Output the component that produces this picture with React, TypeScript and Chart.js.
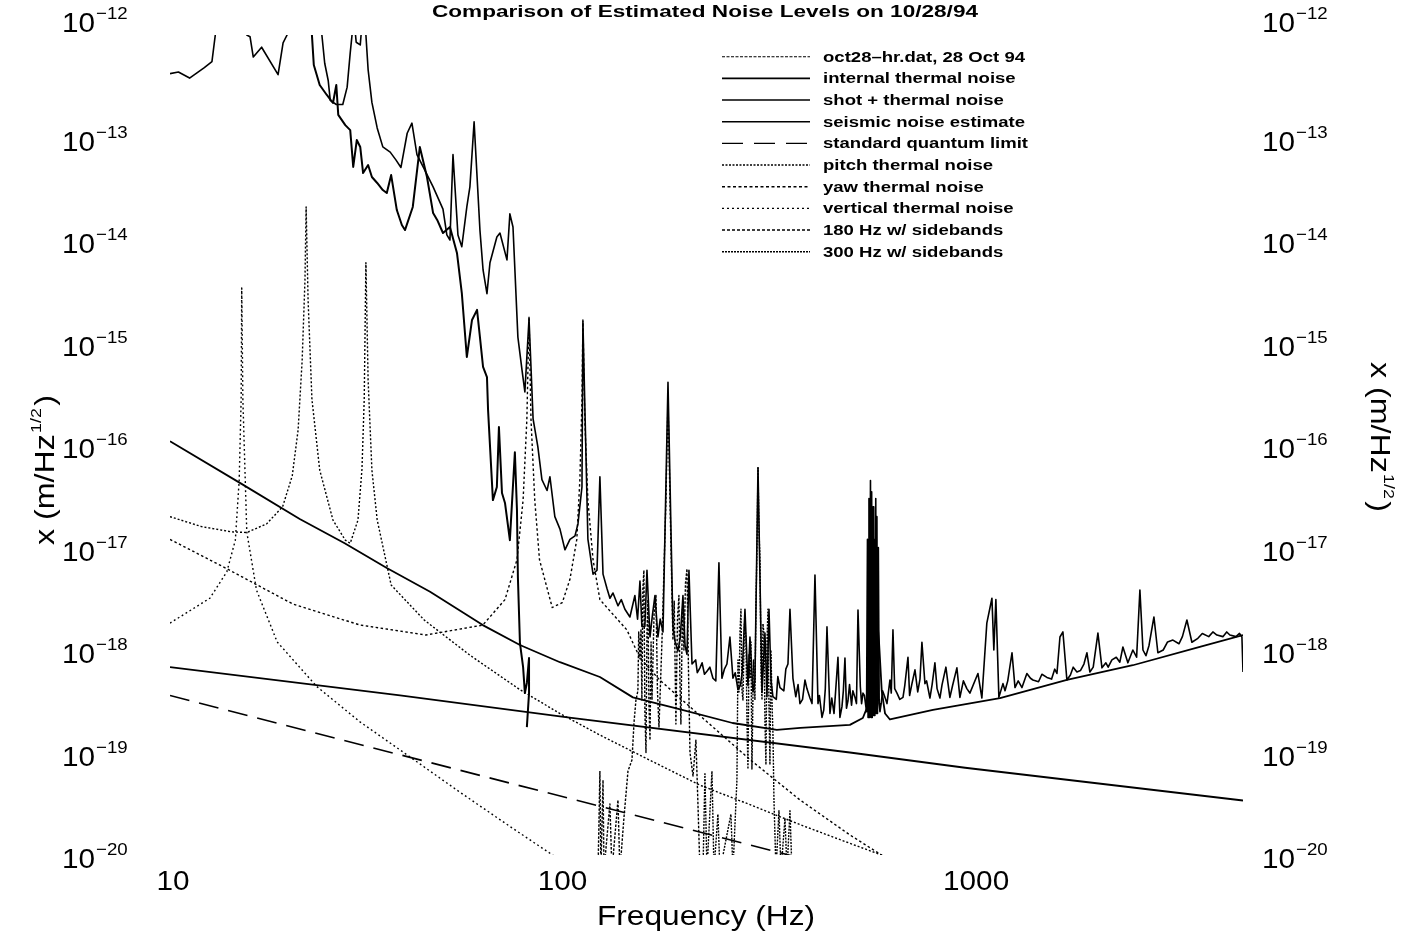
import React, { useEffect, useRef } from 'react';
import { Chart, registerables } from 'chart.js';

Chart.register(...registerables);

type Pt = [number, number];

// ---------- text ----------
const chartTitle = 'Comparison of Estimated Noise Levels on 10/28/94';
const xAxisTitle = 'Frequency (Hz)';
const yAxisTitleMain = 'x (m/Hz';
const yAxisTitleSup = '1/2';
const xTickValues = [10, 100, 1000];
const yTickExponents = [-12, -13, -14, -15, -16, -17, -18, -19, -20];
const legendLabels = [
  'oct28\u2013hr.dat, 28 Oct 94',
  'internal thermal noise',
  'shot + thermal noise',
  'seismic noise estimate',
  'standard quantum limit',
  'pitch thermal noise',
  'yaw thermal noise',
  'vertical thermal noise',
  '180 Hz w/ sidebands',
  '300 Hz w/ sidebands',
];

// ---------- data: [frequency Hz, amplitude m/sqrt(Hz)] ----------
const oct28Spectrum: Pt[] = [
  [10.0, 4.2e-13], [10.5, 4.35e-13], [11.2, 3.8e-13], [12.2, 4.8e-13], [12.75, 5.5e-13], [13.0, 1.0e-12],
  [13.5, 3e-12], [15.2, 3e-12], [15.6, 1.0e-12], [15.9, 9.6e-13], [16.2, 6.1e-13], [17.0, 7.6e-13],
  [18.7, 4.1e-13], [19.25, 8.4e-13], [19.7, 1.0e-12], [20.2, 3e-12], [23.6, 3e-12], [24.1, 1.0e-12],
  [24.5, 5.3e-13], [25.0, 3.6e-13], [25.3, 2.3e-13], [26.2, 2.1e-13], [27.2, 2.1e-13], [27.9, 3.1e-13],
  [28.4, 6.7e-13], [28.7, 1.0e-12], [29.0, 1.5e-12], [29.4, 8.5e-13], [30.1, 8.0e-13], [30.5, 1.5e-12],
  [31.1, 1.0e-12], [31.5, 4.6e-13], [32.2, 2.2e-13], [33.2, 1.24e-13], [34.3, 8.1e-14], [35.8, 7.2e-14],
  [37.0, 6.05e-14], [38.1, 5.1e-14], [39.5, 1.1e-13], [40.6, 1.38e-13], [41.8, 6.8e-14], [43.3, 5.2e-14],
  [45.9, 3.3e-14], [48.6, 2.0e-14], [49.7, 1.12e-14], [50.6, 1.0e-14], [51.5, 6.8e-14], [53.0, 1.12e-14],
  [54.2, 8.6e-15], [55.8, 2.1e-14], [56.8, 3.3e-14], [58.2, 1.42e-13], [60.2, 1.25e-14], [61.3, 5.1e-15],
  [62.7, 3.0e-15], [63.8, 6.0e-15], [66.4, 1.07e-14], [67.6, 1.17e-14], [70.4, 6.4e-15], [71.6, 1.8e-14],
  [72.9, 1.34e-14], [75.0, 1.13e-15], [76.8, 5.4e-16], [78.1, 3.3e-16], [80.0, 1.7e-15], [81.9, 1.8e-16],
  [84.2, 9.6e-17], [86.2, 4.6e-17], [88.8, 3.6e-17], [90.3, 4.9e-17], [92.9, 2.0e-17], [95.7, 1.51e-17],
  [98.5, 9.5e-18], [101.4, 1.2e-17], [104.4, 1.3e-17], [106.2, 1.7e-17], [108.7, 3.9e-17], [109.3, 1.6e-15],
  [112.5, 1.21e-17], [115.9, 5.5e-18], [118.6, 6.0e-18], [120.6, 4.9e-17], [122.8, 5.5e-18], [125.6, 4.0e-18],
  [127.8, 3.2e-18], [130.1, 3.6e-18], [133.9, 2.7e-18], [136.5, 3.1e-18], [139.4, 2.5e-18], [143.5, 2.1e-18],
  [147.7, 3.4e-18], [150.0, 2.0e-18], [152.1, 4.7e-18], [153.8, 1.7e-18], [156.5, 1.7e-18], [158.4, 6.0e-18],
  [161.2, 1.34e-18], [163.5, 2.2e-18], [165.9, 3.4e-18], [168.8, 1.34e-18], [171.0, 2.0e-18], [173.8, 1.5e-18],
  [178.9, 4.1e-16], [184.1, 1.7e-18], [186.5, 1.2e-18], [189.5, 9.8e-19], [192.0, 1.3e-18], [195.1, 3.4e-18],
  [197.5, 1.1e-18], [199.7, 9.1e-19], [202.0, 6.0e-18], [205.6, 7.3e-19], [210, 8.0e-19], [212, 6.0e-19],
  [215.3, 6.7e-19], [218, 7.5e-19], [221, 5.8e-19], [224.2, 6.2e-19], [228, 6.8e-19], [232.1, 5.3e-19],
  [236, 5.0e-19], [240.3, 7.1e-18], [244.5, 5.3e-19], [248, 6.5e-19], [251.7, 7.3e-19], [256.1, 1.34e-18],
  [260.6, 5.3e-19], [264, 6.0e-19], [268.3, 4.1e-19], [272, 4.5e-19], [275, 6.0e-19], [279.4, 2.5e-18],
  [284.3, 4.5e-19], [287.6, 1.34e-18], [292.7, 3.9e-19], [296, 5.0e-19], [301.3, 6.0e-17], [308.4, 3.9e-19],
  [313.7, 1.46e-18], [317.4, 3.5e-19], [321.1, 2.5e-18], [325, 5.0e-19], [328.6, 3.5e-19], [335, 3.3e-19],
  [338, 5.5e-19], [342.2, 4.3e-19], [350, 4.0e-19], [354, 6.5e-19], [358.4, 7.3e-19], [362.6, 2.5e-18],
  [368.9, 5.3e-19], [375, 3.5e-19], [380, 4.6e-19], [384.2, 3.0e-19], [390, 3.3e-19], [395.5, 5.1e-19],
  [400, 4.2e-19], [407.1, 3.4e-19], [412, 3.0e-19], [419.1, 5.4e-18], [426.5, 3.0e-19], [430, 3.6e-19],
  [436.5, 2.2e-19], [441, 2.6e-19], [445, 4.2e-19], [449.3, 1.68e-18], [457.1, 2.4e-19], [462, 3.4e-19],
  [468, 2.4e-19], [472, 3.8e-19], [478.8, 8.5e-19], [484.3, 2.2e-19], [490, 2.8e-19], [494, 4.0e-19],
  [498.6, 8.35e-19], [503, 2.7e-19], [507.4, 3.2e-19], [512, 4.6e-19], [518, 2.9e-19], [522, 4.0e-19],
  [528.4, 3.45e-19], [533, 3.0e-19], [537.7, 2.45e-18], [545, 4.4e-19], [549, 3.0e-19], [553.4, 3.8e-19],
  [558, 3.6e-19], [565, 2.5e-19], [568, 1.2e-17], [570, 2.2e-19], [573, 3.0e-17], [575, 2.2e-19],
  [578, 4.5e-17], [580, 2.2e-19], [582, 3.5e-17], [584, 2.2e-19], [587, 2.5e-17], [589, 2.3e-19],
  [591, 1.2e-17], [593, 2.3e-19], [596, 3.0e-17], [598, 2.4e-19], [600, 2.0e-17], [602, 2.4e-19],
  [605, 1.0e-17], [608, 3.0e-19], [610.7, 2.5e-19], [615, 3.0e-19], [620, 4.0e-19], [628.6, 3.45e-19],
  [636, 3.0e-19], [647.1, 5.1e-19], [652, 3.8e-19], [658.4, 1.57e-18], [665, 4.2e-19], [673.9, 3.8e-19],
  [685, 3.3e-19], [697.8, 3.45e-19], [705, 4.5e-19], [718.2, 8.5e-19], [725, 3.6e-19], [735.0, 4.7e-19],
  [747.9, 6.4e-19], [760, 3.9e-19], [770, 5.2e-19], [778.7, 1.19e-18], [792.4, 4.7e-19], [800, 5.0e-19],
  [815.6, 3.4e-19], [826, 4.6e-19], [839.5, 7.5e-19], [850, 4.2e-19], [864.2, 3.4e-19], [875, 4.6e-19],
  [894.7, 6.8e-19], [905, 4.8e-19], [915.6, 3.45e-19], [930, 4.5e-19], [953.5, 6.7e-19], [970.3, 3.45e-19],
  [990, 5.0e-19], [1010, 4.2e-19], [1028, 3.8e-19], [1077, 5.9e-19], [1102, 3.4e-19], [1134, 1.83e-18],
  [1168, 3.2e-18], [1181, 1.0e-18], [1195, 3.1e-18], [1216, 3.45e-19], [1245, 4.7e-19], [1260, 4.0e-19],
  [1280, 5.0e-19], [1312, 9.4e-19], [1335, 4.3e-19], [1360, 5.0e-19], [1390, 4.3e-19], [1430, 5.9e-19],
  [1460, 5.3e-19], [1481, 5.1e-19], [1530, 4.9e-19], [1560, 5.8e-19], [1606, 5.4e-19], [1650, 5.2e-19],
  [1680, 6.5e-19], [1702, 5.9e-19], [1732, 1.34e-18], [1762, 1.5e-18], [1803, 5.1e-19], [1840, 5.7e-19],
  [1870, 6.8e-19], [1911, 6.1e-19], [1950, 6.3e-19], [1990, 7.3e-19], [2025, 9.4e-19], [2060, 6.1e-19],
  [2100, 6.8e-19], [2158, 1.46e-18], [2209, 6.7e-19], [2260, 7.5e-19], [2290, 6.8e-19], [2340, 8.0e-19],
  [2400, 8.5e-19], [2450, 7.6e-19], [2494, 1.07e-18], [2567, 7.5e-19], [2642, 1.0e-18], [2700, 8.5e-19],
  [2752, 3.85e-18], [2801, 1.0e-18], [2850, 8.8e-19], [2900, 1.1e-18], [2985, 2.1e-18], [3054, 9.4e-19],
  [3150, 1.0e-18], [3230, 1.2e-18], [3332, 1.25e-18], [3450, 1.15e-18], [3520, 1.35e-18], [3613, 1.96e-18],
  [3719, 1.19e-18], [3850, 1.3e-18], [3950, 1.45e-18], [4100, 1.35e-18], [4200, 1.5e-18], [4298, 1.4e-18],
  [4450, 1.35e-18], [4550, 1.5e-18], [4634, 1.4e-18], [4800, 1.35e-18], [4900, 1.45e-18], [4969, 1.34e-18],
  [5000, 6.1e-19],
];

const internalThermalNoise: Pt[] = [
  [10, 6.8e-19], [37.9, 3.6e-19], [100, 2.2e-19], [513, 1.0e-19], [1000, 7.1e-20], [5000, 3.4e-20],
];

const shotThermalNoise: Pt[] = [
  [10, 1.09e-16], [15.1, 4.2e-17], [21.2, 1.9e-17], [27.5, 1.1e-17], [35.1, 6.3e-18], [45.1, 3.7e-18],
  [61.2, 1.75e-18], [75.9, 1.12e-18], [95.7, 7.6e-19], [120.6, 5.45e-19], [146, 3.45e-19], [191, 2.65e-19],
  [260, 1.94e-19], [336, 1.66e-19], [385, 1.74e-19], [513, 1.86e-19], [553, 2.17e-19], [570, 2.9e-19],
  [583, 6.4e-19], [593, 1.25e-18], [600, 2.2e-18], [607, 1.25e-18], [617, 4.0e-19], [629, 2.4e-19],
  [647, 2.1e-19], [830, 2.6e-19], [1224, 3.4e-19], [1803, 5.1e-19], [2642, 7.1e-19], [3893, 1.07e-18],
  [5000, 1.4e-18],
];

const seismicNoiseEstimate: Pt[] = [
  [22.5, 3e-12], [22.75, 1.0e-12], [23.0, 5.1e-13], [23.8, 3.25e-13], [24.8, 2.6e-13], [25.7, 2.17e-13],
  [26.2, 3.25e-13], [26.5, 1.66e-13], [27.6, 1.32e-13], [28.4, 1.18e-13], [28.9, 5.16e-14], [29.5, 9.45e-14],
  [30.1, 8.07e-14], [30.6, 4.5e-14], [31.5, 5.39e-14], [32.2, 4.12e-14], [33.2, 3.6e-14], [34.3, 3.07e-14],
  [35.1, 2.87e-14], [36.0, 4.3e-14], [37.2, 1.96e-14], [38.3, 1.4e-14], [39.0, 1.25e-14], [40.8, 2.1e-14],
  [42.5, 8.07e-14], [44.3, 4.12e-14], [45.9, 1.83e-14], [47.0, 1.57e-14], [48.6, 1.17e-14], [50.6, 1.34e-14],
  [52.7, 7.47e-15], [54.2, 3.04e-15], [55.8, 7.22e-16], [57.5, 1.66e-15], [59.2, 2.08e-15], [60.2, 1.13e-15],
  [61.3, 5.77e-16], [62.7, 4.6e-16], [63.1, 2.2e-16], [64.9, 2.9e-17], [66.4, 3.9e-17], [67.2, 1.5e-16],
  [68.4, 3.4e-17], [69.6, 2.72e-17], [71.6, 1.18e-17], [73.7, 8.5e-17], [74.6, 2.32e-17], [75.0, 5.16e-18],
  [75.9, 1.17e-18], [77.3, 6.8e-19], [78.1, 3.8e-19], [79.0, 4.77e-19], [80.0, 8.35e-19], [80.0, 3.8e-19],
  [79.0, 1.77e-19],
];

const standardQuantumLimit: Pt[] = [
  [10, 3.6e-19], [100, 3.6e-20], [360, 1.0e-20], [400, 9e-21],
];

const pitchThermalNoise: Pt[] = [
  [10, 2.0e-17], [12, 1.6e-17], [14.3, 1.42e-17], [15.6, 1.4e-17], [17.5, 1.7e-17], [19.2, 2.5e-17],
  [20.3, 5e-17], [21.0, 1.4e-16], [21.5, 6.7e-16], [21.85, 4.0e-15], [22.0, 2.1e-14], [22.25, 2.6e-15],
  [22.75, 2.8e-16], [23.8, 5.7e-17], [25.7, 1.85e-17], [27.6, 1.18e-17], [28.4, 1.1e-17], [29.7, 1.85e-17],
  [30.4, 5.8e-17], [30.8, 2.8e-16], [31.1, 6.0e-15], [31.5, 4.3e-16], [32.2, 5.7e-17], [33.2, 1.86e-17],
  [36.0, 4.3e-18], [43.6, 1.96e-18], [56.8, 8.9e-19], [75.9, 4.1e-19], [95.7, 2.4e-19], [120.6, 1.48e-19],
  [161.2, 8.4e-20], [215.3, 4.8e-20], [287.6, 3.1e-20], [384, 1.98e-20], [513, 1.3e-20], [616, 1.0e-20],
  [700, 7e-21],
];

const yawThermalNoise: Pt[] = [
  [10, 1.2e-17], [13.8, 6.3e-18], [20.4, 2.8e-18], [30.1, 1.75e-18], [44.0, 1.4e-18], [61.2, 1.75e-18],
  [69.6, 3.1e-18], [74.6, 7.6e-18], [77.3, 2.9e-17], [79.0, 1.77e-16], [80.0, 1.8e-15], [80.9, 1.8e-16],
  [82.7, 2.9e-17], [85.0, 7.6e-18], [91.5, 2.6e-18], [97, 2.9e-18], [101.4, 4.9e-18], [105.5, 1.2e-17],
  [107.4, 4.6e-17], [108.7, 2.7e-16], [109.3, 1.66e-15], [110.5, 1.77e-16], [112.5, 2.9e-17], [115.9, 7.6e-18],
  [120.6, 3.1e-18], [141, 1.57e-18], [152, 8.4e-19], [170.5, 5.1e-19], [215, 2.3e-19], [288, 8.5e-20],
  [384, 3.45e-20], [513, 1.57e-20], [616, 1.0e-20], [680, 7e-21],
];

const verticalThermalNoise: Pt[] = [
  [10, 1.83e-18], [12.6, 3.2e-18], [13.9, 5.8e-18], [14.6, 1.18e-17], [14.93, 4.55e-17], [15.1, 2.8e-16],
  [15.15, 3.4e-15], [15.25, 2.8e-16], [15.6, 1.42e-17], [16.5, 3.85e-18], [18.6, 1.2e-18], [23.4, 4.4e-19],
  [30.1, 1.98e-19], [37.9, 1.06e-19], [53.6, 4.1e-20], [71.6, 1.9e-20], [90.3, 1.04e-20], [100, 8e-21],
];

const sidebands180Hz: Pt[] = [
  [119.3, 7e-21], [120.6, 6.6e-20], [121.3, 7e-21], [122.8, 5.4e-20], [123.5, 7e-21], [127.8, 3.15e-20],
  [129.3, 7e-21], [133.9, 3.44e-20], [135.4, 7e-21], [138.6, 2.29e-20], [141.9, 6.6e-20], [145.2, 8.45e-20],
  [147.0, 2.0e-19], [148.6, 3.25e-19], [150.3, 4.0e-19], [151.0, 1.5e-18], [152.1, 8.2e-19], [153.0, 1.6e-18],
  [153.8, 3.25e-19], [154.7, 4.0e-18], [155.6, 6.0e-18], [156.5, 2.5e-19], [157.5, 1.0e-19], [158.4, 1.5e-18],
  [159.3, 3.1e-18], [160.2, 3.0e-19], [161.2, 1.32e-19], [162.2, 1.2e-18], [163.1, 3.25e-19], [165.0, 2.2e-18],
  [166.9, 3.4e-18], [168.3, 4.0e-19], [169.8, 1.77e-19], [172.8, 1.25e-18], [176.8, 2.9e-17], [178.9, 2.75e-16],
  [181.0, 2.9e-17], [184.1, 1.25e-18], [185.5, 3.0e-18], [187.3, 1.9e-19], [189.0, 2.0e-18], [190.6, 3.4e-18],
  [191.7, 5.0e-19], [192.8, 1.9e-19], [194.5, 2.5e-18], [196.2, 1.0e-18], [198.0, 4.5e-18], [199.7, 6.2e-18],
  [201.5, 6.0e-19], [203.2, 1.0e-19], [206.8, 5.9e-20], [210.3, 1.32e-19], [212.8, 3.15e-20], [215.3, 7e-21],
];

const sidebands300Hz: Pt[] = [
  [219.1, 7e-21], [221.6, 6.2e-20], [224.2, 7e-21], [230.8, 6.6e-20], [233.5, 7e-21], [238.9, 2.5e-20],
  [241.7, 7e-21], [257.6, 2.5e-20], [260.6, 7e-21], [266.7, 5.4e-20], [268.3, 8.0e-19], [269.9, 3.9e-19],
  [271.5, 1.5e-18], [273.0, 2.5e-18], [274.6, 4.0e-19], [276.2, 3.25e-19], [278.6, 1.8e-18], [281.0, 1.34e-18],
  [282.7, 2.0e-19], [284.3, 6.9e-20], [286.0, 9.0e-19], [287.6, 5.3e-19], [289.3, 1.2e-18], [290.9, 6.9e-20],
  [293.5, 8.0e-19], [296.0, 3.25e-19], [297.7, 2.5e-18], [299.5, 9.4e-18], [301.3, 6.0e-17], [303.0, 1.5e-17],
  [304.8, 7.6e-18], [306.6, 6.0e-19], [308.4, 3.25e-19], [310.1, 1.8e-18], [311.9, 1.46e-18], [313.7, 2.0e-19],
  [315.5, 7.6e-20], [317.4, 1.2e-18], [319.2, 2.5e-18], [321.0, 3.0e-19], [322.9, 7.6e-20], [324.8, 1.0e-18],
  [326.7, 3.25e-19], [328.6, 1.5e-19], [330.5, 3.44e-20], [334.4, 7e-21], [340.2, 2.7e-20], [344.2, 7e-21],
  [352.3, 2.29e-20], [356.4, 7e-21], [362.6, 2.7e-20], [366.8, 7e-21],
];

// ---------- styles ----------
const FONT = '"Liberation Sans", Arial, Helvetica, sans-serif';

type Style = { width: number; dash: number[] };
const lineStyles: Style[] = [
  { width: 1.6, dash: [] },
  { width: 1.8, dash: [] },
  { width: 1.8, dash: [] },
  { width: 2.0, dash: [] },
  { width: 1.6, dash: [20, 10] },
  { width: 1.4, dash: [2, 2] },
  { width: 1.4, dash: [2.5, 2.5] },
  { width: 1.4, dash: [1.8, 2.8] },
  { width: 1.4, dash: [2.5, 1.5] },
  { width: 1.4, dash: [2, 1.2] },
];
const legendStyles: Style[] = [
  { width: 1.1, dash: [3, 1.5] },
  { width: 1.6, dash: [] },
  { width: 1.6, dash: [] },
  { width: 1.4, dash: [] },
  { width: 1.4, dash: [21, 11] },
  { width: 1.4, dash: [2, 1.5] },
  { width: 1.4, dash: [3, 2.5] },
  { width: 1.4, dash: [2, 3] },
  { width: 1.4, dash: [3, 2] },
  { width: 1.6, dash: [2, 1] },
];

const seriesList: Pt[][] = [
  oct28Spectrum,
  internalThermalNoise,
  shotThermalNoise,
  seismicNoiseEstimate,
  standardQuantumLimit,
  pitchThermalNoise,
  yawThermalNoise,
  verticalThermalNoise,
  sidebands180Hz,
  sidebands300Hz,
];

function drawText(
  ctx: CanvasRenderingContext2D,
  s: string,
  x: number,
  y: number,
  font: string,
  align: 'left' | 'center' | 'right',
  sx: number
): number {
  ctx.save();
  ctx.font = font;
  ctx.textAlign = 'left';
  ctx.textBaseline = 'alphabetic';
  const w = ctx.measureText(s).width * sx;
  let x0 = x;
  if (align === 'center') x0 = x - w / 2;
  else if (align === 'right') x0 = x - w;
  ctx.translate(x0, y);
  ctx.scale(sx, 1);
  ctx.fillText(s, 0, 0);
  ctx.restore();
  return w;
}

function fitScale(ctx: CanvasRenderingContext2D, s: string, font: string, target: number): number {
  ctx.save();
  ctx.font = font;
  const w = ctx.measureText(s).width;
  ctx.restore();
  return target / w;
}

function powerLabel(ctx: CanvasRenderingContext2D, exp: number, x: number, yc: number) {
  const w = drawText(ctx, '10', x, yc + 9, `27px ${FONT}`, 'left', 1.1);
  drawText(ctx, '\u2212' + String(-exp), x + w + 1, yc - 4, `17px ${FONT}`, 'left', 1.1);
}

function yTitle(ctx: CanvasRenderingContext2D, cx: number, cy: number, rot: number, supOffset: number) {
  ctx.save();
  ctx.translate(cx, cy);
  ctx.rotate(rot);
  const f1 = `27px ${FONT}`;
  const f2 = `15px ${FONT}`;
  ctx.font = f1;
  const w1 = ctx.measureText(yAxisTitleMain).width;
  ctx.font = f2;
  const w2 = ctx.measureText(yAxisTitleSup).width;
  ctx.font = f1;
  const w3 = ctx.measureText(')').width;
  const total = w1 + w2 + w3 + 3;
  const sx = 150 / total;
  ctx.scale(sx, 1);
  ctx.fillStyle = '#000';
  ctx.textBaseline = 'alphabetic';
  ctx.textAlign = 'left';
  const x0 = -total / 2;
  ctx.font = f1;
  ctx.fillText(yAxisTitleMain, x0, 0);
  ctx.font = f2;
  ctx.fillText(yAxisTitleSup, x0 + w1 + 1, supOffset);
  ctx.font = f1;
  ctx.fillText(')', x0 + w1 + w2 + 3, 0);
  ctx.restore();
}

const decorPlugin = {
  id: 'decor',
  afterDraw(chart: any) {
    const { ctx, scales } = chart;
    const xs = scales.x;
    const ys = scales.y;
    ctx.save();
    ctx.fillStyle = '#000';
    ctx.strokeStyle = '#000';

    // title
    const tFont = `bold 17px ${FONT}`;
    drawText(ctx, chartTitle, 705, 17, tFont, 'center', fitScale(ctx, chartTitle, tFont, 546));

    // y tick labels (left and right)
    for (const e of yTickExponents) {
      const p = ys.getPixelForValue(Math.pow(10, e));
      const yc = p <= ys.top + 1 ? p - 12 : p + 4;
      powerLabel(ctx, e, 62, yc);
      powerLabel(ctx, e, 1262, yc);
    }

    // x tick labels
    const xOffsets = [3, -5, 11];
    xTickValues.forEach((v, i) => {
      const p = xs.getPixelForValue(v);
      drawText(ctx, String(v), p + xOffsets[i], 890, `27px ${FONT}`, 'center', 1.1);
    });

    // axis titles
    const xtFont = `27px ${FONT}`;
    drawText(ctx, xAxisTitle, 706, 925, xtFont, 'center', fitScale(ctx, xAxisTitle, xtFont, 218));
    yTitle(ctx, 54, 470, -Math.PI / 2, -13);
    yTitle(ctx, 1371, 437, Math.PI / 2, -13);

    // legend
    const lFont = `bold 15px ${FONT}`;
    const lsx = fitScale(ctx, legendLabels[0], lFont, 202);
    legendLabels.forEach((lab, i) => {
      const y = 56.7 + i * 21.67;
      const st = legendStyles[i];
      ctx.save();
      ctx.beginPath();
      ctx.lineWidth = st.width;
      ctx.setLineDash(st.dash);
      ctx.moveTo(722, y);
      ctx.lineTo(810, y);
      ctx.stroke();
      ctx.restore();
      drawText(ctx, lab, 823, y + 5, lFont, 'left', lsx);
    });
    ctx.restore();
  },
};

export default function App() {
  const ref = useRef<HTMLCanvasElement | null>(null);

  useEffect(() => {
    if (!ref.current) return;
    const datasets = seriesList.map((arr, i) => ({
      label: legendLabels[i],
      data: arr.map(([x, y]) => ({ x, y })),
      borderColor: '#000',
      backgroundColor: '#000',
      borderWidth: lineStyles[i].width,
      borderDash: lineStyles[i].dash,
      borderJoinStyle: 'round' as const,
      borderCapStyle: 'butt' as const,
      pointRadius: 0,
      pointHitRadius: 0,
      tension: 0,
      fill: false,
    }));
    const chart = new Chart(ref.current, {
      type: 'line',
      data: { datasets },
      options: {
        animation: false,
        responsive: false,
        maintainAspectRatio: false,
        events: [],
        layout: { padding: { left: 170, right: 162, top: 35, bottom: 82 } },
        plugins: {
          legend: { display: false },
          tooltip: { enabled: false },
          title: { display: false },
        },
        scales: {
          x: { type: 'logarithmic', min: 10, max: 5000, display: false },
          y: { type: 'logarithmic', min: 1e-20, max: 1e-12, display: false },
        },
      },
      plugins: [decorPlugin],
    } as any);
    return () => chart.destroy();
  }, []);

  return (
    <div style={{ position: 'absolute', left: 0, top: 0, width: 1405, height: 937, background: '#fff' }}>
      <canvas ref={ref} width={1405} height={937} style={{ display: 'block', width: 1405, height: 937 }} />
    </div>
  );
}
